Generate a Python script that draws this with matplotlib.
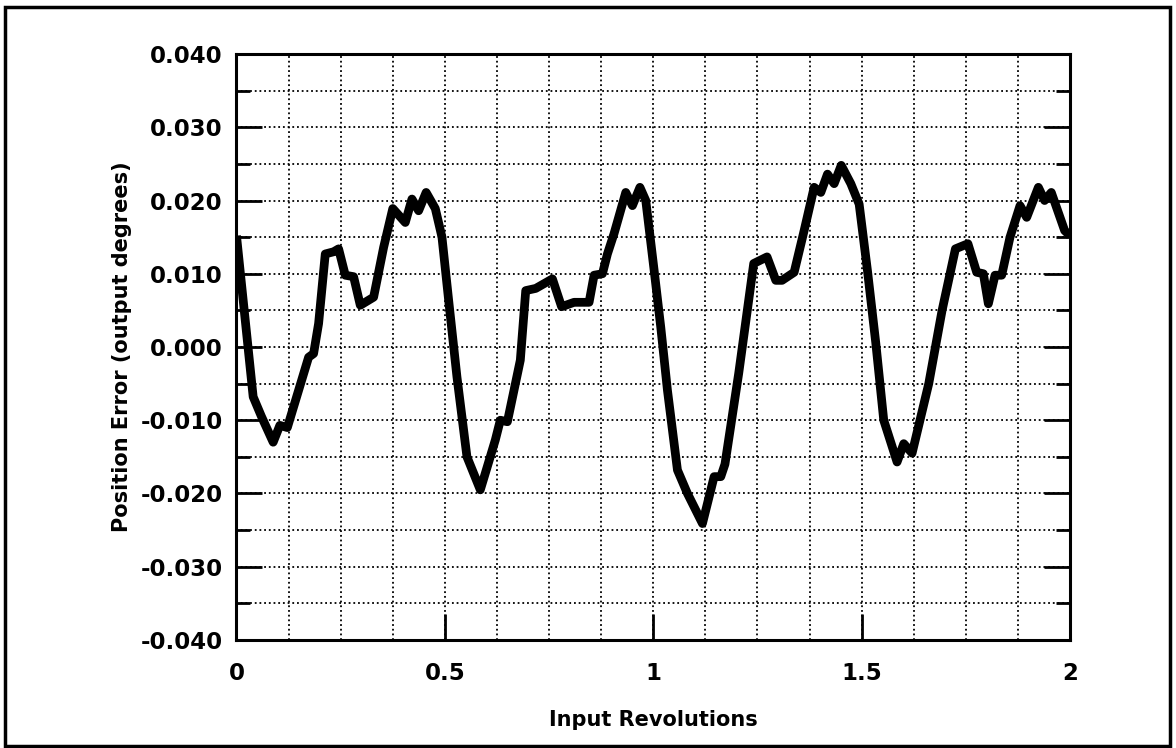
import matplotlib
matplotlib.use('Agg')
import matplotlib.pyplot as plt
import numpy as np
from matplotlib.patches import Rectangle
from matplotlib.ticker import MultipleLocator, FixedLocator, FixedFormatter

# position error trace
revs = [0.000, 0.040, 0.060, 0.088, 0.104, 0.122, 0.173, 0.185, 0.197, 0.213,
        0.233, 0.245, 0.261, 0.281, 0.297, 0.329, 0.353, 0.375, 0.405, 0.421,
        0.437, 0.455, 0.477, 0.493, 0.509, 0.529, 0.553, 0.585, 0.621, 0.633,
        0.650, 0.681, 0.694, 0.718, 0.758, 0.780, 0.810, 0.846, 0.858, 0.878,
        0.890, 0.906, 0.934, 0.950, 0.968, 0.982, 1.002, 1.018, 1.034, 1.058,
        1.082, 1.118, 1.146, 1.162, 1.172, 1.205, 1.241, 1.273, 1.294, 1.309,
        1.338, 1.362, 1.386, 1.402, 1.418, 1.434, 1.451, 1.474, 1.494, 1.514,
        1.534, 1.553, 1.585, 1.601, 1.621, 1.661, 1.693, 1.725, 1.755, 1.776,
        1.792, 1.804, 1.820, 1.836, 1.856, 1.880, 1.896, 1.924, 1.939, 1.955,
        1.987, 2.000]
error = [0.0152, -0.0068, -0.0095, -0.0130, -0.0107, -0.0110, -0.0014, -0.0009, 0.0032, 0.0127,
         0.0130, 0.0134, 0.0098, 0.0096, 0.0057, 0.0068, 0.0136, 0.0189, 0.0170, 0.0202,
         0.0186, 0.0211, 0.0189, 0.0150, 0.0064, -0.0041, -0.0150, -0.0195, -0.0127, -0.0100,
         -0.0102, -0.0018, 0.0077, 0.0080, 0.0093, 0.0055, 0.0061, 0.0061, 0.0098, 0.0100,
         0.0127, 0.0155, 0.0211, 0.0193, 0.0218, 0.0200, 0.0105, 0.0027, -0.0059, -0.0168,
         -0.0200, -0.0241, -0.0177, -0.0177, -0.0160, -0.0036, 0.0114, 0.0123, 0.0091, 0.0091,
         0.0102, 0.0159, 0.0218, 0.0211, 0.0236, 0.0223, 0.0248, 0.0223, 0.0195, 0.0104,
         0.0005, -0.0100, -0.0157, -0.0132, -0.0145, -0.0050, 0.0050, 0.0134, 0.0141, 0.0102,
         0.0100, 0.0059, 0.0098, 0.0098, 0.0150, 0.0193, 0.0177, 0.0218, 0.0200, 0.0211,
         0.0159, 0.0152]

x_ticks = [0, 0.5, 1, 1.5, 2]
x_tick_labels = ['0', '0.5', '1', '1.5', '2']
y_ticks = [0.040, 0.030, 0.020, 0.010, 0.000, -0.010, -0.020, -0.030, -0.040]
y_tick_labels = ['%.3f' % v for v in y_ticks]

plt.rcParams['font.family'] = ['DejaVu Sans']
plt.rcParams['font.weight'] = 'bold'

fig = plt.figure(figsize=(11.76, 7.48), dpi=100)
fig.patch.set_facecolor('white')
ax = fig.add_axes([0.2011, 0.1444, 0.7088, 0.7834])

ax.plot(revs, error, color='black', lw=6.3, solid_joinstyle='round', solid_capstyle='butt', zorder=5)

ax.set_xlim(0, 2)
ax.set_ylim(-0.040, 0.040)

ax.xaxis.set_major_locator(FixedLocator(x_ticks))
ax.xaxis.set_major_formatter(FixedFormatter(x_tick_labels))
ax.xaxis.set_minor_locator(MultipleLocator(0.125))
ax.yaxis.set_major_locator(FixedLocator(y_ticks))
ax.yaxis.set_major_formatter(FixedFormatter(y_tick_labels))
ax.yaxis.set_minor_locator(MultipleLocator(0.005))

ax.tick_params(axis='both', which='both', direction='in', color='black', width=2)
ax.tick_params(axis='y', which='major', length=19, left=True, right=True, pad=10, labelsize=16.5)
ax.tick_params(axis='y', which='minor', length=10, left=True, right=True)
ax.tick_params(axis='x', which='major', length=19, bottom=True, top=False, pad=16, labelsize=16.5)
ax.tick_params(axis='x', which='minor', length=0)

# dense dotted grid like the original plotter output
ax.grid(True, which='both', color='black', lw=1.3, linestyle=(0, (1, 1.6)), zorder=1)
ax.set_axisbelow(True)

for s in ax.spines.values():
    s.set_linewidth(2.2)

ax.set_xlabel('Input Revolutions', fontsize=15, fontweight='bold')
ax.set_ylabel('Position Error (output degrees)', fontsize=15, fontweight='bold')
ax.xaxis.set_label_coords(0.5, -0.137)
ax.xaxis.label.set_va('center')
ax.yaxis.set_label_coords(-0.137, 0.5)
ax.yaxis.label.set_va('center')

fig.add_artist(Rectangle((0.0043, 0.003), 0.9907, 0.9877, transform=fig.transFigure,
                         fill=False, lw=2.5, edgecolor='black'))

fig.savefig('out.png', dpi=100)
